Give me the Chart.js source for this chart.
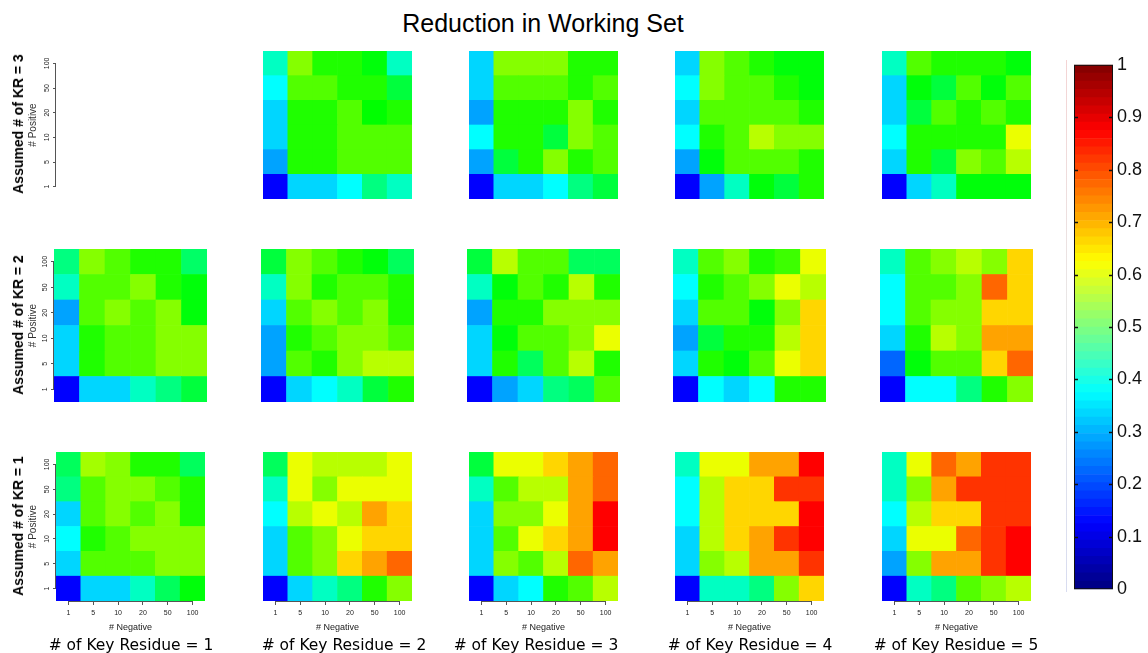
<!DOCTYPE html>
<html>
<head>
<meta charset="utf-8">
<script src="https://cdn.jsdelivr.net/npm/chart.js@4.4.1/dist/chart.umd.min.js"></script>
<style>
  body { margin: 0; background: #fff; width: 1148px; height: 653px; position: relative; overflow: hidden; }
  canvas { position: absolute; }
  .txt { position: absolute; white-space: nowrap; color: #000; }
  #title { left: 543px; top: 23px; transform: translate(-50%, -50%); font: 25px "Liberation Sans", Arial, sans-serif; }
  .rowlab { font: bold 14px "Liberation Sans", Arial, sans-serif; transform: translate(-50%, -50%) rotate(-90deg); }
  .collab { font: 15.5px "DejaVu Sans", sans-serif; transform: translate(-50%, -50%); top: 645px; }
  #cbshadow { position: absolute; left: 1066px; top: 60px; width: 1px; height: 532px;
    background: linear-gradient(#f4d4d4, #e8e8e8, #d8dcf0); }
</style>
</head>
<body>
<div id="title" class="txt">Reduction in Working Set</div>
<div id="cbshadow"></div>

<script>
// axis labels
var negativeLabels = ['1', '5', '10', '20', '50', '100'];
var positiveLabels = ['1', '5', '10', '20', '50', '100'];
var keyResidues = [1, 2, 3, 4, 5];
var assumedKR = [3, 2, 1];
var colorbarTicks = [0, 0.1, 0.2, 0.3, 0.4, 0.5, 0.6, 0.7, 0.8, 0.9, 1];

// reduction values, rows read top (Positive = 100) to bottom (Positive = 1),
// columns Negative = 1, 5, 10, 20, 50, 100
var kr3_key1 = null;
var kr3_key2 = [
  [0.31, 0.63, 0.53, 0.53, 0.49, 0.31],
  [0.25, 0.58, 0.58, 0.53, 0.53, 0.44],
  [0.21, 0.53, 0.53, 0.58, 0.50, 0.53],
  [0.21, 0.53, 0.53, 0.58, 0.58, 0.58],
  [0.16, 0.53, 0.53, 0.58, 0.58, 0.58],
  [0.00, 0.21, 0.21, 0.25, 0.375, 0.31]
];
var kr3_key3 = [
  [0.21, 0.63, 0.63, 0.63, 0.53, 0.53],
  [0.21, 0.58, 0.58, 0.58, 0.53, 0.58],
  [0.16, 0.53, 0.53, 0.53, 0.63, 0.53],
  [0.25, 0.53, 0.53, 0.44, 0.63, 0.58],
  [0.16, 0.44, 0.53, 0.63, 0.53, 0.58],
  [0.00, 0.21, 0.21, 0.25, 0.375, 0.44]
];
var kr3_key4 = [
  [0.21, 0.63, 0.58, 0.53, 0.49, 0.49],
  [0.25, 0.63, 0.58, 0.58, 0.53, 0.49],
  [0.21, 0.58, 0.58, 0.58, 0.58, 0.53],
  [0.25, 0.53, 0.58, 0.68, 0.63, 0.63],
  [0.16, 0.49, 0.58, 0.58, 0.58, 0.53],
  [0.00, 0.16, 0.31, 0.49, 0.44, 0.53]
];
var kr3_key5 = [
  [0.31, 0.58, 0.53, 0.53, 0.53, 0.49],
  [0.21, 0.49, 0.44, 0.58, 0.49, 0.58],
  [0.21, 0.44, 0.58, 0.53, 0.58, 0.53],
  [0.25, 0.53, 0.53, 0.53, 0.53, 0.73],
  [0.21, 0.53, 0.44, 0.63, 0.58, 0.68],
  [0.00, 0.21, 0.31, 0.49, 0.49, 0.49]
];
var kr2_key1 = [
  [0.375, 0.63, 0.58, 0.53, 0.53, 0.40],
  [0.31, 0.58, 0.58, 0.63, 0.53, 0.49],
  [0.16, 0.58, 0.63, 0.58, 0.63, 0.49],
  [0.21, 0.53, 0.58, 0.58, 0.63, 0.63],
  [0.21, 0.53, 0.58, 0.58, 0.63, 0.63],
  [0.00, 0.21, 0.21, 0.31, 0.375, 0.44]
];
var kr2_key2 = [
  [0.44, 0.63, 0.58, 0.53, 0.49, 0.41],
  [0.31, 0.63, 0.53, 0.58, 0.58, 0.53],
  [0.21, 0.58, 0.63, 0.58, 0.63, 0.53],
  [0.16, 0.53, 0.58, 0.63, 0.63, 0.58],
  [0.16, 0.58, 0.53, 0.63, 0.68, 0.68],
  [0.00, 0.21, 0.25, 0.31, 0.44, 0.53]
];
var kr2_key3 = [
  [0.44, 0.68, 0.58, 0.58, 0.41, 0.41],
  [0.31, 0.49, 0.58, 0.53, 0.68, 0.53],
  [0.16, 0.53, 0.53, 0.63, 0.63, 0.63],
  [0.21, 0.49, 0.58, 0.58, 0.63, 0.73],
  [0.21, 0.53, 0.41, 0.58, 0.68, 0.53],
  [0.00, 0.16, 0.21, 0.375, 0.41, 0.58]
];
var kr2_key4 = [
  [0.31, 0.58, 0.63, 0.53, 0.56, 0.73],
  [0.25, 0.53, 0.58, 0.63, 0.73, 0.68],
  [0.21, 0.58, 0.58, 0.49, 0.63, 0.79],
  [0.16, 0.44, 0.53, 0.53, 0.68, 0.79],
  [0.21, 0.53, 0.49, 0.58, 0.73, 0.79],
  [0.00, 0.25, 0.21, 0.25, 0.53, 0.53]
];
var kr2_key5 = [
  [0.31, 0.58, 0.63, 0.68, 0.63, 0.79],
  [0.25, 0.58, 0.58, 0.63, 0.90, 0.79],
  [0.25, 0.58, 0.63, 0.63, 0.79, 0.79],
  [0.21, 0.53, 0.68, 0.63, 0.84, 0.84],
  [0.10, 0.49, 0.58, 0.58, 0.79, 0.90],
  [0.00, 0.25, 0.25, 0.375, 0.53, 0.63]
];
var kr1_key1 = [
  [0.41, 0.66, 0.63, 0.53, 0.53, 0.41],
  [0.375, 0.58, 0.63, 0.63, 0.58, 0.53],
  [0.21, 0.58, 0.63, 0.58, 0.63, 0.53],
  [0.25, 0.53, 0.58, 0.63, 0.63, 0.63],
  [0.21, 0.58, 0.58, 0.58, 0.63, 0.63],
  [0.00, 0.21, 0.21, 0.31, 0.41, 0.49]
];
var kr1_key2 = [
  [0.41, 0.73, 0.68, 0.68, 0.68, 0.73],
  [0.31, 0.73, 0.63, 0.73, 0.73, 0.73],
  [0.25, 0.68, 0.73, 0.68, 0.84, 0.79],
  [0.21, 0.58, 0.63, 0.73, 0.79, 0.79],
  [0.21, 0.58, 0.63, 0.79, 0.84, 0.90],
  [0.00, 0.21, 0.31, 0.375, 0.53, 0.63]
];
var kr1_key3 = [
  [0.44, 0.73, 0.73, 0.79, 0.84, 0.90],
  [0.31, 0.58, 0.68, 0.68, 0.84, 0.90],
  [0.21, 0.63, 0.63, 0.73, 0.84, 1.00],
  [0.21, 0.58, 0.73, 0.79, 0.84, 1.00],
  [0.21, 0.63, 0.58, 0.68, 0.90, 0.84],
  [0.00, 0.21, 0.25, 0.53, 0.58, 0.68]
];
var kr1_key4 = [
  [0.31, 0.73, 0.73, 0.84, 0.84, 1.00],
  [0.25, 0.68, 0.79, 0.79, 0.95, 0.95],
  [0.25, 0.68, 0.79, 0.79, 0.79, 1.00],
  [0.21, 0.68, 0.79, 0.84, 0.95, 1.00],
  [0.21, 0.63, 0.68, 0.84, 0.84, 0.95],
  [0.00, 0.31, 0.31, 0.375, 0.63, 0.79]
];
var kr1_key5 = [
  [0.31, 0.73, 0.90, 0.84, 0.95, 0.95],
  [0.31, 0.63, 0.84, 0.95, 0.95, 0.95],
  [0.25, 0.68, 0.79, 0.79, 0.95, 0.95],
  [0.21, 0.73, 0.73, 0.90, 0.95, 1.00],
  [0.16, 0.63, 0.84, 0.84, 0.95, 1.00],
  [0.00, 0.31, 0.375, 0.58, 0.63, 0.68]
];

var grids = [
  [kr3_key1, kr3_key2, kr3_key3, kr3_key4, kr3_key5],
  [kr2_key1, kr2_key2, kr2_key3, kr2_key4, kr2_key5],
  [kr1_key1, kr1_key2, kr1_key3, kr1_key4, kr1_key5]
];

// layout of the panels
var rowTop = [51, 249, 452];
var rowHeight = [148, 153, 149];
var colLeft = [[56, 263, 469, 675, 882], [54, 261, 467, 673, 880], [56, 263, 469, 675, 882]];
var rowWidth = [149, 153, 149];
var colLabelX = [131, 344, 536, 750, 956];
var yAxisLeft = 23;
var xAxisHeight = 36;
var axisColor = '#555';

function cellColor(v) {
  return 'hsl(' + (240 * (1 - v)).toFixed(1) + ',100%,50%)';
}

function jet(v) {
  function c(x) { return Math.round(255 * Math.max(0, Math.min(1, x))); }
  return 'rgb(' + c(1.5 - Math.abs(4 * v - 3)) + ',' + c(1.5 - Math.abs(4 * v - 2)) + ',' + c(1.5 - Math.abs(4 * v - 1)) + ')';
}

function addCanvas(left, top, w, h) {
  var cv = document.createElement('canvas');
  cv.width = w; cv.height = h;
  cv.style.left = left + 'px'; cv.style.top = top + 'px';
  cv.style.width = w + 'px'; cv.style.height = h + 'px';
  document.body.appendChild(cv);
  return cv;
}

function addText(cls, html, x, y) {
  var d = document.createElement('div');
  d.className = 'txt ' + cls;
  d.textContent = html;
  d.style.left = x + 'px';
  d.style.top = y + 'px';
  document.body.appendChild(d);
}

// R style axes: line only from first to last tick, rotated y labels
var rAxes = {
  id: 'rAxes',
  afterDraw: function (chart) {
    var ctx = chart.ctx, a = chart.chartArea;
    ctx.save();
    ctx.strokeStyle = axisColor;
    ctx.lineWidth = 1;
    if (chart.options.scales.y.display) {
      var sy = chart.scales.y;
      var y0 = sy.getPixelForValue(0.5), y1 = sy.getPixelForValue(5.5);
      ctx.beginPath();
      ctx.moveTo(a.left - 0.5, y0); ctx.lineTo(a.left - 0.5, y1);
      ctx.stroke();
      ctx.fillStyle = '#222';
      ctx.font = '7px "Liberation Sans", Arial, sans-serif';
      ctx.textAlign = 'center';
      ctx.textBaseline = 'bottom';
      positiveLabels.forEach(function (lab, i) {
        ctx.save();
        ctx.translate(a.left - 5, sy.getPixelForValue(i + 0.5));
        ctx.rotate(-Math.PI / 2);
        ctx.fillText(lab, 0, 0);
        ctx.restore();
      });
    }
    if (chart.options.scales.x.display) {
      var sx = chart.scales.x;
      ctx.beginPath();
      ctx.moveTo(sx.getPixelForValue(0), a.bottom + 0.5);
      ctx.lineTo(sx.getPixelForValue(5), a.bottom + 0.5);
      ctx.stroke();
    }
    ctx.restore();
  }
};

function makePanel(r, c) {
  var grid = grids[r][c];
  var showY = c === 0, showX = r === 2;
  var px = colLeft[r][c], py = rowTop[r];
  var w = rowWidth[r], h = rowHeight[r];
  var left = showY ? yAxisLeft : px;
  var cw = w + (showY ? px - yAxisLeft : 0);
  var ch = h + (showX ? xAxisHeight : 0);
  var cv = addCanvas(left, py, cw, ch);

  var datasets = [];
  if (grid) {
    for (var k = 0; k < 6; k++) {
      var row = grid[5 - k];
      datasets.push({
        label: positiveLabels[k],
        data: [1, 1, 1, 1, 1, 1],
        backgroundColor: row.map(cellColor),
        borderWidth: 0,
        barPercentage: 1,
        categoryPercentage: 1
      });
    }
  }

  new Chart(cv, {
    type: 'bar',
    data: { labels: negativeLabels, datasets: datasets },
    options: {
      responsive: false,
      animation: false,
      events: [],
      layout: { padding: 0 },
      plugins: { legend: { display: false }, tooltip: { enabled: false } },
      scales: {
        x: {
          display: showX,
          stacked: true,
          grid: { display: true, drawOnChartArea: false, drawTicks: true, tickLength: 4, color: axisColor, offset: false },
          border: { display: false },
          ticks: { color: '#222', font: { size: 7, family: '"Liberation Sans", Arial, sans-serif' }, padding: 4, maxRotation: 0, autoSkip: false },
          title: { display: true, text: '# Negative', color: '#222', font: { size: 9, family: '"Liberation Sans", Arial, sans-serif' }, padding: 4 },
          afterFit: function (s) { s.height = showX ? xAxisHeight : 0; }
        },
        y: {
          display: showY,
          stacked: true,
          min: 0, max: 6,
          afterBuildTicks: function (s) { s.ticks = [0.5, 1.5, 2.5, 3.5, 4.5, 5.5].map(function (v) { return { value: v }; }); },
          grid: { display: true, drawOnChartArea: false, drawTicks: true, tickLength: 3, color: axisColor },
          border: { display: false },
          ticks: { display: false },
          title: { display: true, text: '# Positive', color: '#333', font: { size: 10, family: '"Liberation Sans", Arial, sans-serif' }, padding: 4 },
          afterFit: function (s) { s.width = showY ? px - yAxisLeft : 0; }
        }
      }
    },
    plugins: [rAxes]
  });
}

for (var r = 0; r < 3; r++) {
  for (var c = 0; c < 5; c++) makePanel(r, c);
  addText('rowlab', 'Assumed # of KR = ' + assumedKR[r], 18, rowTop[r] + rowHeight[r] / 2 - 1);
}
keyResidues.forEach(function (k, i) {
  addText('collab', '# of Key Residue = ' + k, colLabelX[i], 645);
});

// colour bar
var cbLevels = 64;
var cbSets = [];
for (var i = 0; i < cbLevels; i++) {
  cbSets.push({
    data: [1 / cbLevels],
    backgroundColor: jet((i + 0.5) / cbLevels),
    borderWidth: 0,
    barPercentage: 1,
    categoryPercentage: 1
  });
}
var cbFrame = {
  id: 'cbFrame',
  afterDraw: function (chart) {
    var ctx = chart.ctx, a = chart.chartArea, s = chart.scales.y;
    ctx.save();
    ctx.strokeStyle = '#111';
    ctx.lineWidth = 1;
    ctx.strokeRect(a.left + 0.5, a.top + 0.5, a.right - a.left - 1, a.bottom - a.top - 1);
    ctx.lineWidth = 1.5;
    colorbarTicks.forEach(function (v) {
      if (v === 0 || v === 1) return;
      var y = Math.round(s.getPixelForValue(v)) + 0.5;
      ctx.beginPath();
      ctx.moveTo(a.left, y); ctx.lineTo(a.left + 4, y);
      ctx.moveTo(a.right - 4, y); ctx.lineTo(a.right, y);
      ctx.stroke();
    });
    ctx.restore();
  }
};
var cbCanvas = addCanvas(1074, 50, 74, 554);
new Chart(cbCanvas, {
  type: 'bar',
  data: { labels: [''], datasets: cbSets },
  options: {
    responsive: false,
    animation: false,
    events: [],
    layout: { padding: { top: 10, bottom: 12, left: 0, right: 0 } },
    plugins: { legend: { display: false }, tooltip: { enabled: false } },
    scales: {
      x: { display: false, stacked: true },
      y: {
        position: 'right',
        stacked: true,
        min: 0, max: 1,
        afterBuildTicks: function (s) { s.ticks = colorbarTicks.map(function (v) { return { value: v }; }); },
        grid: { display: false, drawTicks: false, tickLength: 0 },
        border: { display: false },
        ticks: {
          color: '#111',
          padding: 4,
          font: { size: 18, family: '"Liberation Sans", Arial, sans-serif' },
          callback: function (v) { return String(+v.toFixed(1)); }
        },
        afterFit: function (s) { s.width = 35; }
      }
    }
  },
  plugins: [cbFrame]
});
</script>
</body>
</html>
